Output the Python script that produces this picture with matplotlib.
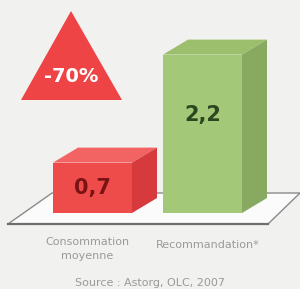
import matplotlib
matplotlib.use("Agg")
import matplotlib.pyplot as plt
from matplotlib.patches import Polygon

# data
categories = ["Consommation\nmoyenne", "Recommandation*"]
values = [0.7, 2.2]
value_labels = ["0,7", "2,2"]
badge_text = "-70%"
source_text = "Source : Astorg, OLC, 2007"

# couleurs (face avant, dessus, cote, texte)
front_colors = ["#ee4b4b", "#a3c878"]
top_colors = ["#f26464", "#9cbf6e"]
side_colors = ["#d63a3c", "#88aa60"]
text_colors = ["#7a1414", "#2c4620"]

bg = "#f1f1ef"

fig = plt.figure(figsize=(3.0, 2.89), dpi=100, facecolor=bg)
ax = fig.add_axes([0, 0, 1, 1])
ax.set_xlim(0, 300)
ax.set_ylim(289, 0)
ax.axis("off")
ax.set_facecolor(bg)

# sol (parallelogramme)
floor = Polygon([(8, 224), (268, 224), (300, 193), (52, 193)], closed=True,
                facecolor="#fbfbfb", edgecolor="#8a8a8a", lw=1.0, zorder=1)
ax.add_patch(floor)
ax.plot([8, 268], [224, 224], color="#6e6e6e", lw=1.6, zorder=1.5)

base_y = 213
scale = 72.0          # pixels par unite
bar_w = 79
dx, dy = 25, -15
lefts = [53, 163]

for i, v in enumerate(values):
    x0 = lefts[i]
    x1 = x0 + bar_w
    top = base_y - v * scale
    front = Polygon([(x0, base_y), (x1, base_y), (x1, top), (x0, top)],
                    facecolor=front_colors[i], edgecolor="none", zorder=3)
    topf = Polygon([(x0, top), (x1, top), (x1 + dx, top + dy), (x0 + dx, top + dy)],
                   facecolor=top_colors[i], edgecolor="none", zorder=3)
    side = Polygon([(x1, base_y), (x1 + dx, base_y + dy), (x1 + dx, top + dy), (x1, top)],
                   facecolor=side_colors[i], edgecolor="none", zorder=3)
    for p in (front, topf, side):
        ax.add_patch(p)
    ty = top + 0.5 * (base_y - top) if i == 0 else top + 0.38 * (base_y - top)
    ax.text((x0 + x1) / 2, ty, value_labels[i], ha="center", va="center",
            fontsize=15, fontweight="bold", color=text_colors[i], zorder=4)

# etiquettes
label_x = [87, 208]
label_y = [249, 245]
for i, c in enumerate(categories):
    ax.text(label_x[i], label_y[i], c, ha="center", va="center", fontsize=8,
            color="#9a9a9a", linespacing=1.5)

ax.text(150, 283, source_text, ha="center", va="center", fontsize=8, color="#9a9a9a")

# triangle -70%
tri = Polygon([(71, 11), (122, 100), (21, 100)], closed=True,
              facecolor="#ee4446", edgecolor="none", zorder=3)
ax.add_patch(tri)
ax.text(71, 76, badge_text, ha="center", va="center", fontsize=14,
        fontweight="bold", color="white", zorder=4)

fig.savefig("out.png", dpi=100, facecolor=bg)
